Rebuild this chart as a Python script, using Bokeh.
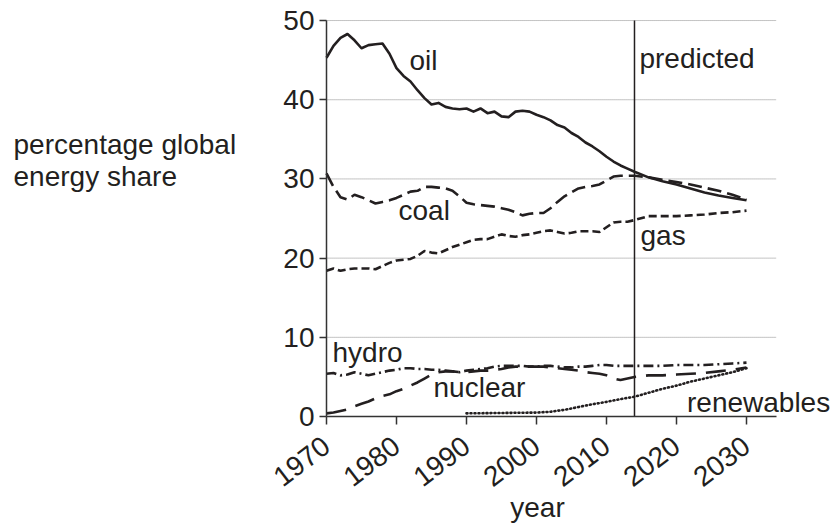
from bokeh.plotting import figure
from bokeh.models import Label, FixedTicker, Range1d
from bokeh.embed import file_html
from bokeh.resources import INLINE

# ---------------- data ----------------
YEARS = [1970, 1971, 1972, 1973, 1974, 1975, 1976, 1977, 1978, 1979,
         1980, 1981, 1982, 1983, 1984, 1985, 1986, 1987, 1988, 1989,
         1990, 1991, 1992, 1993, 1994, 1995, 1996, 1997, 1998, 1999,
         2000, 2001, 2002, 2003, 2004, 2005, 2006, 2007, 2008, 2009,
         2010, 2011, 2012, 2013, 2014,
         2016, 2018, 2020, 2022, 2024, 2026, 2028, 2030]

OIL = [45.3, 46.8, 47.8, 48.3, 47.5, 46.5, 46.9, 47.0, 47.1, 45.8,
       44.0, 43.0, 42.3, 41.2, 40.2, 39.4, 39.6, 39.1, 38.9, 38.8,
       38.9, 38.5, 38.9, 38.3, 38.5, 37.9, 37.8, 38.5, 38.6, 38.5,
       38.1, 37.8, 37.4, 36.8, 36.5, 35.8, 35.3, 34.6, 34.1, 33.5,
       32.8, 32.2, 31.7, 31.3, 30.9,
       30.2, 29.7, 29.3, 28.8, 28.3, 27.9, 27.6, 27.3]

COAL = [30.7, 29.0, 27.7, 27.4, 28.0, 27.7, 27.3, 26.9, 27.1, 27.3,
        27.6, 28.0, 28.4, 28.5, 29.0, 29.0, 28.9, 28.8, 28.5, 27.8,
        27.0, 26.8, 26.7, 26.6, 26.5, 26.3, 26.1, 25.8, 25.4, 25.6,
        25.7, 25.7, 26.3, 27.1, 27.8, 28.3, 28.8, 29.0, 29.1, 29.3,
        29.8, 30.3, 30.4, 30.4, 30.4,
        30.2, 29.9, 29.6, 29.3, 28.9, 28.5, 28.0, 27.4]

GAS = [18.4, 18.7, 18.4, 18.6, 18.7, 18.7, 18.7, 18.6, 19.0, 19.4,
       19.7, 19.8, 19.9, 20.3, 20.9, 20.7, 20.6, 21.0, 21.4, 21.7,
       22.0, 22.3, 22.4, 22.4, 22.7, 23.0, 22.8, 22.7, 22.9, 23.0,
       23.2, 23.4, 23.5, 23.3, 23.1, 23.2, 23.4, 23.4, 23.4, 23.3,
       23.9, 24.5, 24.6, 24.6, 24.8,
       25.3, 25.3, 25.3, 25.4, 25.5, 25.7, 25.8, 26.0]

HYDRO = [5.4, 5.5, 5.2, 5.3, 5.6, 5.4, 5.2, 5.4, 5.6, 5.8,
         5.9, 6.1, 6.1, 6.0, 6.0, 5.9, 5.9, 5.8, 5.7, 5.6,
         5.8, 5.9, 6.0, 6.1, 6.3, 6.4, 6.4, 6.4, 6.4, 6.3,
         6.3, 6.4, 6.4, 6.3, 6.2, 6.2, 6.3, 6.3, 6.4, 6.5,
         6.5, 6.4, 6.4, 6.4, 6.4,
         6.4, 6.4, 6.5, 6.5, 6.5, 6.6, 6.7, 6.8]

NUCLEAR = [0.4, 0.5, 0.7, 0.9, 1.3, 1.6, 1.9, 2.3, 2.6, 2.8,
           3.2, 3.5, 3.9, 4.3, 4.8, 5.3, 5.6, 5.7, 5.7, 5.6,
           5.6, 5.7, 5.8, 5.8, 5.9, 6.0, 6.2, 6.3, 6.3, 6.3,
           6.3, 6.3, 6.2, 6.1, 6.0, 5.9, 5.8, 5.6, 5.5, 5.4,
           5.2, 4.8, 4.6, 4.8, 5.0,
           5.2, 5.2, 5.3, 5.4, 5.5, 5.7, 5.9, 6.2]

RENEW_YEARS = [1990, 1995, 2000, 2002, 2004, 2006, 2008, 2010, 2012, 2014,
               2016, 2018, 2020, 2022, 2024, 2026, 2028, 2030]
RENEWABLES = [0.4, 0.45, 0.5, 0.6, 0.85, 1.2, 1.55, 1.85, 2.2, 2.5,
              3.0, 3.5, 3.9, 4.4, 4.8, 5.2, 5.6, 6.1]

PREDICTION_START = 2014
X_TICKS = [1970, 1980, 1990, 2000, 2010, 2020, 2030]
Y_TICKS = [0, 10, 20, 30, 40, 50]
X_AXIS_END = 2034.3

# ---------------- figure ----------------
INK = "#231f20"
FONT = "Liberation Sans"
FS = "28px"

p = figure(width=833, height=525, output_backend="svg", toolbar_location=None,
           x_range=Range1d(1923.43, 2042.43), y_range=Range1d(-13.76, 52.53),
           min_border=0, min_border_left=0, min_border_right=0,
           min_border_top=0, min_border_bottom=0)
p.outline_line_color = None
p.background_fill_color = "white"
p.border_fill_color = "white"
p.xgrid.visible = False
p.ygrid.visible = False

for ax in (p.xaxis[0], p.yaxis[0]):
    ax.axis_line_color = "#333333"
    ax.axis_line_width = 1.5
    ax.major_tick_line_color = "#333333"
    ax.major_tick_line_width = 1.5
    ax.minor_tick_line_color = None
    ax.major_tick_in = 0
    ax.major_label_text_font = FONT
    ax.major_label_text_font_size = FS
    ax.major_label_text_color = INK

p.xaxis.ticker = FixedTicker(ticks=X_TICKS)
p.xaxis.fixed_location = Y_TICKS[0]
p.xaxis.bounds = (X_TICKS[0], X_AXIS_END)
p.xaxis.major_tick_out = 8
p.xaxis.major_label_orientation = 0.65
p.xaxis.major_label_standoff = 18
p.yaxis.ticker = FixedTicker(ticks=Y_TICKS)
p.yaxis.fixed_location = X_TICKS[0]
p.yaxis.bounds = (Y_TICKS[0], Y_TICKS[-1])
p.yaxis.major_tick_out = 7
p.yaxis.major_label_standoff = 5

# dotted horizontal gridlines, limited to the axis extent
gy = Y_TICKS[1:]
p.segment(x0=[X_TICKS[0]] * len(gy), x1=[X_AXIS_END] * len(gy), y0=gy, y1=gy,
          line_color="#888888", line_width=1, line_dash="1 1")

# prediction divider
p.segment(x0=[PREDICTION_START], x1=[PREDICTION_START], y0=[Y_TICKS[0]], y1=[Y_TICKS[-1]],
          line_color=INK, line_width=1.5)

LW = 2.6
p.line(YEARS, OIL, line_color=INK, line_width=LW, line_join="round")
p.line(YEARS, COAL, line_color=INK, line_width=LW, line_dash="14 6")
p.line(YEARS, GAS, line_color=INK, line_width=LW, line_dash="8 4")
p.line(YEARS, HYDRO, line_color=INK, line_width=LW, line_dash="10 4 2 4")
p.line(YEARS, NUCLEAR, line_color=INK, line_width=LW, line_dash="20 10")
p.line(RENEW_YEARS, RENEWABLES, line_color=INK, line_width=2.6,
       line_dash="1 3", line_cap="round")

def lab(x, y, text, align="left"):
    p.add_layout(Label(x=x, y=y, text=text, text_font=FONT, text_font_size=FS,
                       text_color=INK, text_align=align, text_baseline="alphabetic"))

lab(1981.86, 44.9, "oil")
lab(2014.71, 45.15, "predicted")
lab(1980.29, 26.05, "coal")
lab(2014.86, 22.9, "gas")
lab(1970.86, 8.1, "hydro")
lab(1985.29, 3.7, "nuclear")
lab(2021.5, 1.8, "renewables")
lab(1925.29, 34.4, "percentage global")
lab(1925.29, 30.3, "energy share")
lab(2000.14, -11.5, "year", align="center")

open("out.html", "w").write(file_html(p, INLINE))
